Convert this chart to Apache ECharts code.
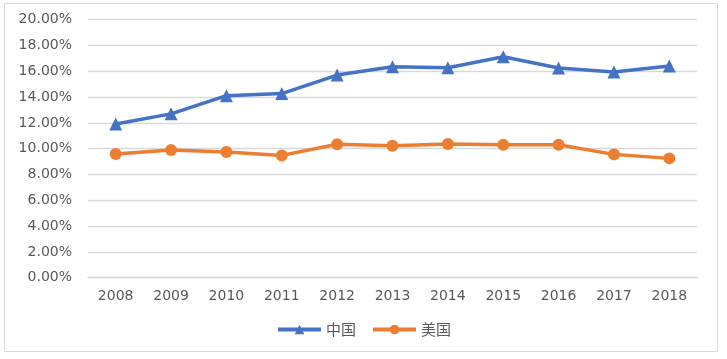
<!DOCTYPE html>
<html><head><meta charset="utf-8">
<script src="https://cdn.jsdelivr.net/npm/echarts@6/dist/echarts.min.js"></script>
<style>html,body{margin:0;padding:0;background:#fff}#c{width:727px;height:359px}</style>
</head><body><div id="c"></div>
<script>
var years = ['2008','2009','2010','2011','2012','2013','2014','2015','2016','2017','2018'];
var china = [11.91, 12.70, 14.11, 14.27, 15.71, 16.36, 16.28, 17.13, 16.26, 15.95, 16.41];
var usa = [9.59, 9.90, 9.74, 9.48, 10.34, 10.23, 10.36, 10.31, 10.31, 9.56, 9.25];
var yTicks = [0, 2, 4, 6, 8, 10, 12, 14, 16, 18, 20];

var chart = echarts.init(document.getElementById('c'));
var txt = '#595959';
chart.setOption({
  animation: false,
  graphic: [{type:'rect', shape:{x:4.5,y:3.5,width:713,height:348}, style:{fill:'none', stroke:'#d9d9d9', lineWidth:1}, silent:true}],
  grid: {left: 88, right: 30, top: 19.7, bottom: 81.3},
  legend: {
    left: 'center', top: 317, itemWidth: 43, itemHeight: 12, itemGap: 15,
    lineStyle: {width: 4},
    textStyle: {color: txt, fontSize: 15, fontFamily: 'Noto Sans CJK SC'},
    data: ['中国', '美国']
  },
  xAxis: {
    type: 'category', data: years, boundaryGap: true,
    axisLine: {show: true, lineStyle: {color: '#d9d9d9', width: 1.3}},
    axisTick: {show: false},
    axisLabel: {color: txt, fontSize: 14, fontFamily: 'DejaVu Sans', margin: 12}
  },
  yAxis: {
    type: 'value', min: yTicks[0], max: yTicks[yTicks.length-1], interval: 2,
    axisLine: {show: false}, axisTick: {show: false},
    splitLine: {lineStyle: {color: '#d9d9d9', width: 1.3}},
    axisLabel: {color: txt, fontSize: 14, fontFamily: 'DejaVu Sans', margin: 16,
      formatter: function(v){ return v.toFixed(2) + '%'; }}
  },
  series: [
    {name: '中国', type: 'line', data: china, symbol: 'triangle', symbolSize: 13,
      lineStyle: {color: '#4472C4', width: 3.5}, itemStyle: {color: '#4472C4'}},
    {name: '美国', type: 'line', data: usa, symbol: 'circle', symbolSize: 12,
      lineStyle: {color: '#ED7D31', width: 3.5}, itemStyle: {color: '#ED7D31'}}
  ]
});
</script></body></html>
